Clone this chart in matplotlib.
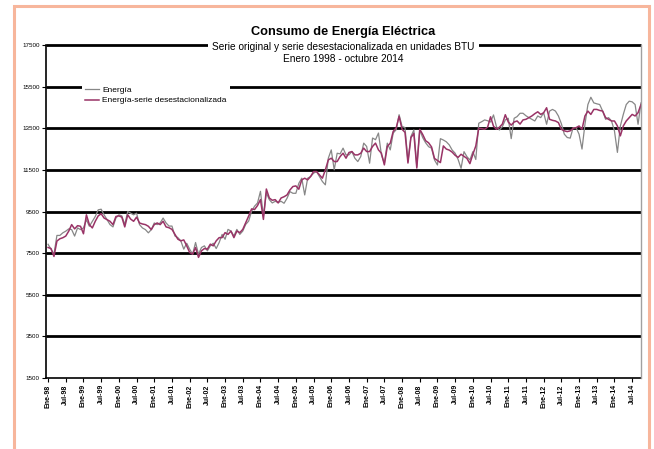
import numpy as np
import matplotlib
matplotlib.use("Agg")
import matplotlib.pyplot as plt
from matplotlib.patches import Rectangle

plt.rcParams['font.family'] = ['Liberation Sans', 'DejaVu Sans']

# --- DATA (monthly, Jan 1998 - Oct 2014) ---
energia = [
    7925, 7690, 7450, 8350, 8350, 8475, 8555, 8665, 8630, 8320,
    8710, 8630, 8710, 9105, 8790, 9030, 9260, 9580, 9610, 9340,
    9105, 8870, 8760, 9185, 9340, 9290, 8870, 9500, 9420, 9340,
    9420, 8870, 8710, 8630, 8475, 8630, 8950, 8870, 8950, 9185,
    8950, 8800, 8800, 8325, 8245, 8090, 7690, 7975, 7690, 7450,
    8010, 7450, 7770, 7850, 7610, 7850, 7975, 7720, 8010, 8400,
    8165, 8640, 8560, 8325, 8640, 8400, 8560, 8880, 9040, 9515,
    9755, 9910, 10470, 9280, 10390, 10070, 9910, 9990, 9940, 9990,
    9895, 10135, 10455, 10375, 10375, 10855, 11100, 10295, 11100, 11180,
    11340, 11420, 11180, 10940, 10780, 12060, 12460, 11500, 12300, 12270,
    12545, 12220, 12220, 12380, 12060, 11900, 12140, 12785, 12625, 11820,
    13030, 12950, 13270, 12220, 11820, 12785, 12460, 13270, 13430, 14150,
    13590, 13530, 11905, 13100, 13420, 11660, 13420, 13050, 12800, 12615,
    12540, 11975, 11735, 13000, 12935, 12850, 12700, 12450, 12300, 12000,
    11575, 12375, 12135, 11975, 12375, 12000, 13740, 13815, 13900, 13860,
    13800, 14140, 13575, 13415, 13575, 13900, 13980, 13000, 13980, 14060,
    14220, 14220, 14100, 14010, 13930, 13850, 14090, 14010, 14245, 13690,
    14325, 14405, 14325, 14090, 13720, 13215, 13055, 13025, 13530, 13530,
    13215, 12500, 13690, 14640, 14990, 14720, 14675, 14640, 14325, 13930,
    14010, 13850, 13375, 12340, 13610, 14165, 14640, 14800, 14770, 14640,
    13690, 14720,
]

desestacionalizada = [
    7770, 7720, 7340, 8080, 8190, 8240, 8320, 8555, 8870, 8665,
    8820, 8790, 8430, 9340, 8870, 8710, 9030, 9290, 9390, 9185,
    9105, 9030, 8870, 9260, 9290, 9230, 8760, 9340, 9135, 9030,
    9230, 8950, 8900, 8870, 8790, 8630, 8870, 8950, 8870, 9030,
    8760, 8720, 8640, 8400, 8170, 8090, 8135, 7850, 7530, 7450,
    7770, 7295, 7610, 7720, 7690, 7930, 7850, 8090, 8245, 8245,
    8485, 8400, 8560, 8245, 8560, 8485, 8640, 8960, 9280, 9625,
    9595, 9785, 10070, 9120, 10580, 10150, 10040, 10070, 9910, 10150,
    10210, 10295, 10535, 10700, 10730, 10570, 11020, 11100, 11020, 11180,
    11420, 11420, 11260, 11100, 11500, 11980, 12060, 11900, 11900, 12140,
    12300, 12060, 12335, 12380, 12220, 12220, 12300, 12545, 12380, 12380,
    12625, 12785, 12460, 12300, 11740, 12625, 12785, 13350, 13510, 14070,
    13450, 13300, 11830, 13050, 13250, 11590, 13450, 13200, 12900, 12800,
    12600, 12050, 11950, 11850, 12650, 12500, 12450, 12350, 12200, 12100,
    12250, 12150, 12050, 11800, 12250, 12650, 13500, 13480, 13450, 13550,
    14050, 13600, 13450, 13550, 13700, 14150, 13800, 13650, 13800, 13850,
    13700, 13900, 13930, 14010, 14090, 14200, 14290, 14165, 14245, 14485,
    13930, 13880, 13850, 13770, 13450, 13375, 13340, 13375, 13500, 13530,
    13610, 13450, 14090, 14325, 14165, 14405, 14405, 14355, 14325, 14010,
    13930, 13850, 13850, 13610, 13135, 13610, 13850, 14010, 14165, 14090,
    14245, 14640,
]

x_labels = [
    'Ene-98', 'Jul-98', 'Ene-99', 'Jul-99', 'Ene-00', 'Jul-00', 'Ene-01', 'Jul-01',
    'Ene-02', 'Jul-02', 'Ene-03', 'Jul-03', 'Ene-04', 'Jul-04', 'Ene-05', 'Jul-05',
    'Ene-06', 'Jul-06', 'Ene-07', 'Jul-07', 'Ene-08', 'Jul-08', 'Ene-09', 'Jul-09',
    'Ene-10', 'Jul-10', 'Ene-11', 'Jul-11', 'Ene-12', 'Jul-12', 'Ene-13', 'Jul-13',
    'Ene-14', 'Jul-14',
]
y_ticks = [1500, 3500, 5500, 7500, 9500, 11500, 13500, 15500, 17500]

months = np.arange(len(energia))
x_ticks = np.arange(len(x_labels)) * 6

# --- FIGURE ---
fig = plt.figure(figsize=(6.54, 4.49), dpi=100)
ax = fig.add_axes([46 / 654, 1 - 378 / 449, 595 / 654, 333 / 449])

# outer peach frame (bottom runs off the picture)
fig.patches.append(Rectangle((13.5 / 654, -0.05), 635 / 654, 1.05 - 6.5 / 449,
                             transform=fig.transFigure, fill=False,
                             edgecolor='#F7B69C', linewidth=2.2, clip_on=False))

ax.plot(months, energia, color='#878787', linewidth=0.9, label='Energía', zorder=3)
ax.plot(months, desestacionalizada, color='#993366', linewidth=1.1,
        label='Energía-serie desestacionalizada', zorder=4)

ax.set_xlim(-0.7, len(energia) - 1)
ax.set_ylim(y_ticks[0], y_ticks[-1])
ax.set_yticks(y_ticks)
ax.set_yticklabels([str(v) for v in y_ticks], fontsize=4.5)
ax.set_xticks(x_ticks)
ax.set_xticklabels(x_labels, rotation=90, fontsize=5, fontweight='bold')
ax.tick_params(axis='both', direction='out', length=3, width=0.8, pad=1.5, colors='black')

ax.yaxis.grid(True, color='black', linewidth=2.0, solid_capstyle='butt')
for i, gl in enumerate(ax.get_ygridlines()):
    gl.set_clip_on(False)
    if i == 0:
        gl.set_visible(False)

ax.spines['top'].set_visible(False)
ax.spines['right'].set_color('#A0A0A0')
ax.spines['right'].set_linewidth(1.0)
ax.spines['right'].set_zorder(6)
ax.spines['left'].set_linewidth(1.2)
ax.spines['bottom'].set_linewidth(1.2)

# titles
cx = (46 + 641) / 2 / 654
fig.text(cx, 1 - 32 / 449, 'Consumo de Energía Eléctrica', ha='center', va='center',
         fontsize=9.2, fontweight='bold')
fig.text(cx, 1 - 47 / 449, 'Serie original y serie desestacionalizada en unidades BTU',
         ha='center', va='center', fontsize=7.3,
         bbox=dict(boxstyle='square,pad=0.4', facecolor='white', edgecolor='none'))
fig.text(cx, 1 - 59 / 449, 'Enero 1998 - octubre 2014', ha='center', va='center', fontsize=7.3)

leg = ax.legend(loc='upper left', bbox_to_anchor=(82 / 654, 1 - 83 / 449),
                bbox_transform=fig.transFigure, fontsize=6, frameon=True,
                fancybox=False, handlelength=1.7, handletextpad=0.35,
                labelspacing=0.3, borderpad=0.4, borderaxespad=0)
leg.get_frame().set_facecolor('white')
leg.get_frame().set_edgecolor('none')
leg.get_frame().set_alpha(1.0)

fig.savefig('out.png', dpi=100)
